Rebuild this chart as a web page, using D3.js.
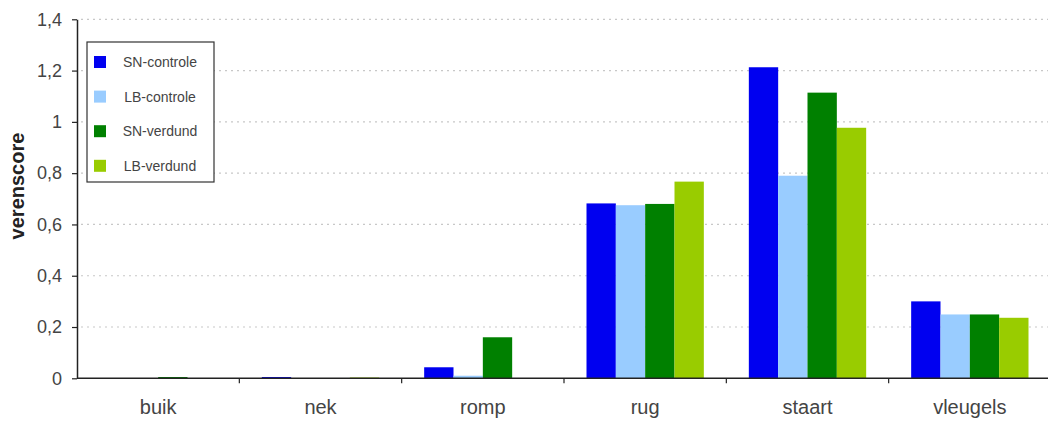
<!DOCTYPE html>
<html><head><meta charset="utf-8">
<script src="https://cdn.jsdelivr.net/npm/d3@7"></script>
<style>body{margin:0;background:#fff;} svg{display:block;font-family:"Liberation Sans",Arial,sans-serif;}</style>
</head><body>
<svg id="c" width="1048" height="421"></svg>
<script>
const categories = ["buik","nek","romp","rug","staart","vleugels"];
const seriesNames = ["SN-controle","LB-controle","SN-verdund","LB-verdund"];
const snControle = [0, 0.005, 0.043, 0.682, 1.213, 0.30];
const lbControle = [0, 0, 0.01, 0.675, 0.79, 0.249];
const snVerdund = [0.005, 0, 0.16, 0.68, 1.114, 0.249];
const lbVerdund = [0, 0.003, 0, 0.767, 0.977, 0.236];
const yTicks = [0, 0.2, 0.4, 0.6, 0.8, 1, 1.2, 1.4];
const colors = ["#0000f0", "#99ccff", "#008000", "#99cc00"];
const seriesValues = [snControle, lbControle, snVerdund, lbVerdund];

const svg = d3.select("#c");
const mLeft = 77, mRight = 1051, mTop = 19.3, mBottom = 378.3;
const x = d3.scaleBand().domain(categories).range([mLeft, mRight]).paddingInner(0).paddingOuter(0);
const x1 = d3.scaleBand().domain(seriesNames).range([22.5, x.bandwidth() - 22.5]);
const y = d3.scaleLinear().domain([0, 1.4]).range([mBottom, mTop]);
const fmt = d => String(d).replace(".", ",");

// gridlines
svg.append("g").selectAll("line").data(yTicks.filter(d => d > 0)).join("line")
  .attr("x1", mLeft + 4).attr("x2", 1048).attr("y1", d => y(d)).attr("y2", d => y(d))
  .attr("stroke", "#c8c8c8").attr("stroke-width", 1.2).attr("stroke-dasharray", "2,4");

// bars
const g = svg.append("g");
categories.forEach((cat, i) => {
  seriesNames.forEach((s, j) => {
    const v = seriesValues[j][i];
    g.append("rect")
      .attr("x", x(cat) + x1(s)).attr("width", x1.bandwidth())
      .attr("y", y(v)).attr("height", mBottom - y(v))
      .attr("fill", colors[j]);
  });
});

// y axis
const yAxis = svg.append("g").attr("transform", `translate(${mLeft},0)`)
  .call(d3.axisLeft(y).tickValues(yTicks).tickFormat(fmt).tickSize(5).tickSizeOuter(0));
yAxis.select(".domain").attr("stroke", "#222").attr("stroke-width", 1.5);
yAxis.selectAll(".tick line").attr("stroke", "#222").attr("stroke-width", 1.2);
yAxis.selectAll(".tick text").attr("font-size", 18).attr("fill", "#444").attr("x", -15)
  .attr("font-family", "Liberation Sans, Arial, sans-serif");

// x axis
const xAxis = svg.append("g").attr("transform", `translate(0,${mBottom})`);
xAxis.append("line").attr("x1", mLeft).attr("x2", 1048).attr("y1", 0).attr("y2", 0)
  .attr("stroke", "#222").attr("stroke-width", 1.5);
xAxis.selectAll("line.t").data(categories.slice(1)).join("line").attr("class", "t")
  .attr("x1", d => x(d)).attr("x2", d => x(d)).attr("y1", 0).attr("y2", 5)
  .attr("stroke", "#222").attr("stroke-width", 1.2);
xAxis.selectAll("text").data(categories).join("text")
  .attr("x", d => x(d) + x.bandwidth() / 2).attr("y", 36)
  .attr("text-anchor", "middle").attr("font-size", 20).attr("fill", "#444").text(d => d);

// y title
svg.append("text").attr("transform", "translate(24,186) rotate(-90)")
  .attr("text-anchor", "middle").attr("font-size", 20).attr("font-weight", "bold")
  .attr("fill", "#222").text("verenscore");

// legend
const lg = svg.append("g");
lg.append("rect").attr("x", 87).attr("y", 42).attr("width", 127).attr("height", 140)
  .attr("fill", "#fff").attr("stroke", "#333").attr("stroke-width", 1.2);
seriesNames.forEach((s, j) => {
  const cy = 62 + j * 34.6;
  lg.append("rect").attr("x", 94).attr("y", cy - 6).attr("width", 12).attr("height", 12).attr("fill", colors[j]);
  lg.append("text").attr("x", 160).attr("y", cy + 5).attr("text-anchor", "middle")
    .attr("font-size", 14).attr("fill", "#444").text(s);
});
</script>
</body></html>
